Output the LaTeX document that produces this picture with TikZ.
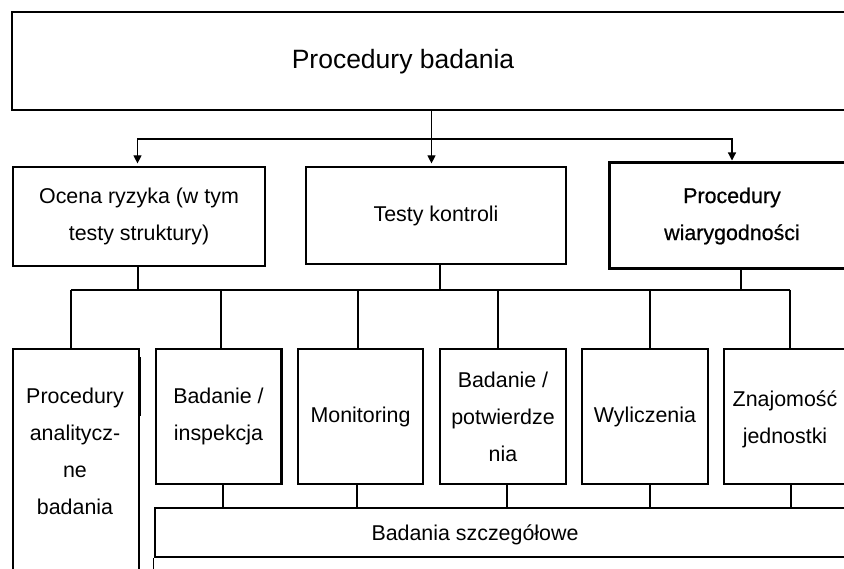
\documentclass[tikz,border=0pt]{standalone}
\usepackage{fontspec}
\setmainfont{Liberation Sans}
\newfontfamily\heavyfont{Liberation Sans}[FakeBold=0.6]
\usetikzlibrary{arrows.meta,calc}
\begin{document}
\begin{tikzpicture}[x=1pt,y=-1pt,
  box/.style={draw,line width=1.2pt,rectangle,inner sep=0pt,align=center,
    font=\fontsize{21.4}{37}\selectfont},
  txt/.style={inner sep=0pt,align=center,font=\fontsize{21.4}{37}\selectfont},
  conn/.style={line width=1.2pt},
  arr/.style={line width=1.2pt,-{Triangle[length=8pt,width=8pt]}}]
\useasboundingbox (0,0) rectangle (844,569);
\clip (0,0) rectangle (844,569);
\fill[white] (0,0) rectangle (844,569);

% top level
\node[box,minimum width=848pt,minimum height=98pt] (top) at (436,61) {};
\node[txt,font=\fontsize{26.5}{30}\selectfont] (toptext) at (403,62) {Procedury badania};

% second level
\node[box,minimum width=252pt,minimum height=99pt] (ocena) at (139,216.5)
  {Ocena ryzyka (w tym\\testy struktury)};
\node[box,minimum width=260pt,minimum height=97pt] (testy) at (436,215.5)
  {Testy kontroli};
\node[box,line width=3pt,minimum width=246pt,minimum height=106pt,
  font=\heavyfont\fontsize{21.4}{37}\selectfont] (wiar) at (732,216)
  {Procedury\\wiarygodności};

% third level
\node[box,minimum width=126pt,minimum height=260pt] (b1) at (76,479) {};
\node[txt] (b1t) at (75,451) {Procedury\\analitycz-\\ne\\badania};
\node[box,minimum width=125pt,minimum height=135pt] (b2) at (218.5,416.5)
  {Badanie /\\inspekcja};
\node[box,minimum width=125pt,minimum height=135pt] (b3) at (360.5,416.5)
  {Monitoring};
\node[box,minimum width=126pt,minimum height=135pt] (b4) at (503,416.5)
  {Badanie /\\potwierdze\\nia};
\node[box,minimum width=126pt,minimum height=135pt] (b5) at (645,416.5)
  {Wyliczenia};
\node[box,minimum width=126pt,minimum height=135pt] (b6) at (787,416.5) {};
\node[txt] (b6t) at (785,419) {Znajomość\\jednostki};

% thicker edge pieces
\draw[line width=2.5pt] ([yshift=-9pt]b1.north east) -- ([yshift=-68pt]b1.north east);
\draw[line width=2pt] (b2.north east) -- (b2.south east);

% bottom bar
\node[draw,line width=2.8pt,rectangle,inner sep=0pt,minimum width=745pt,
  minimum height=49pt] (bar) at (527.5,532.5) {};
\node[txt] (bartext) at (475,535) {Badania szczegółowe};
\draw[conn] (bar.south west) -- ++(0,20);

% connectors top -> second level
\coordinate (hub) at (431.5,139);
\draw[conn] (top.south -| hub) -- (hub);
\draw[arr,shorten >=3pt] (hub) -| ([xshift=-1.5pt]ocena.north);
\draw[arr,shorten >=3pt] (hub) -- (hub |- testy.north);
\draw[arr,shorten >=1pt] (hub) -| (wiar.north);

% second level -> bus -> third level
\coordinate (bus) at (431,290);
\draw[conn] ([xshift=-5pt]b1.north |- bus) -- ([xshift=3pt]b6.north |- bus);
\draw[conn] ([xshift=-1pt]ocena.south) -- ([xshift=-1pt]ocena.south |- bus);
\draw[conn] ([xshift=4pt]testy.south) -- ([xshift=4pt]testy.south |- bus);
\draw[conn] ([xshift=9pt]wiar.south) -- ([xshift=9pt]wiar.south |- bus);
\draw[conn] ([xshift=-5pt]b1.north |- bus) -- ([xshift=-5pt]b1.north);
\draw[conn] ([xshift=2.5pt]b2.north |- bus) -- ([xshift=2.5pt]b2.north);
\draw[conn] ([xshift=-2.5pt]b3.north |- bus) -- ([xshift=-2.5pt]b3.north);
\draw[conn] ([xshift=-5pt]b4.north |- bus) -- ([xshift=-5pt]b4.north);
\draw[conn] ([xshift=5pt]b5.north |- bus) -- ([xshift=5pt]b5.north);
\draw[conn] ([xshift=3pt]b6.north |- bus) -- ([xshift=3pt]b6.north);

% third level -> bar
\draw[conn] ([xshift=4.5pt]b2.south) -- ([xshift=4.5pt]b2.south |- bar.north);
\draw[conn] ([xshift=-3.5pt]b3.south) -- ([xshift=-3.5pt]b3.south |- bar.north);
\draw[conn] ([xshift=4pt]b4.south) -- ([xshift=4pt]b4.south |- bar.north);
\draw[conn] ([xshift=5pt]b5.south) -- ([xshift=5pt]b5.south |- bar.north);
\draw[conn] ([xshift=4pt]b6.south) -- ([xshift=4pt]b6.south |- bar.north);
\end{tikzpicture}
\end{document}
